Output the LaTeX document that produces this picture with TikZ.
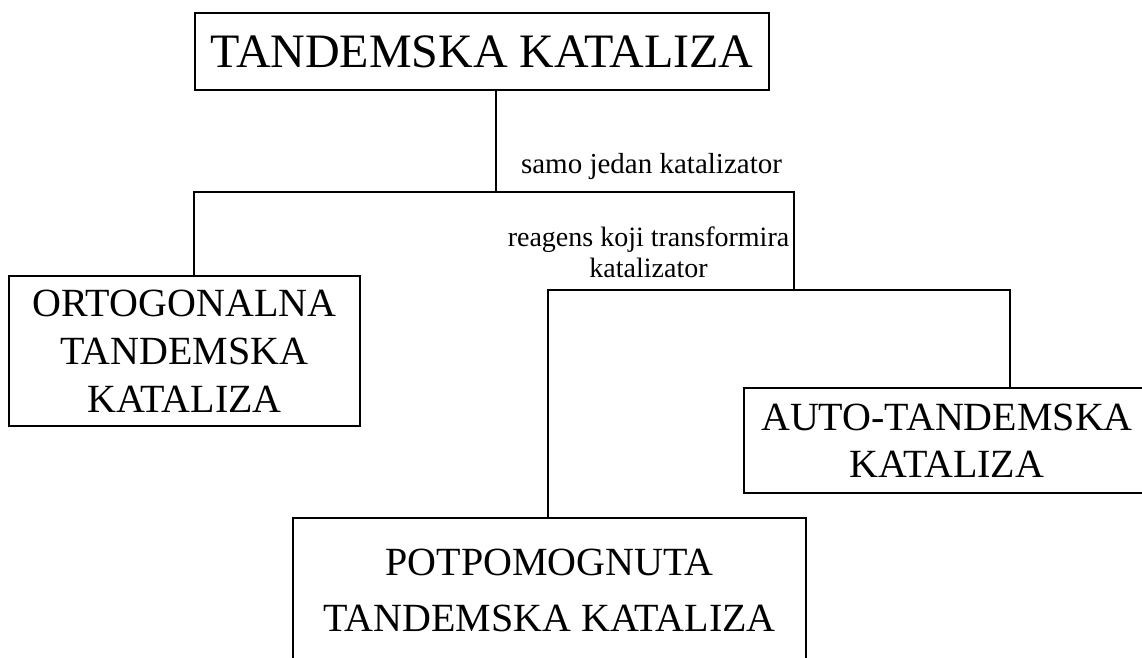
\documentclass[tikz,border=0pt]{standalone}
\usepackage{fontspec}
\setmainfont{Liberation Serif}

\begin{document}
\begin{tikzpicture}[x=1pt,y=-1pt,line width=1.3pt,
    box/.style={draw,inner sep=0pt,align=center,font=\fontsize{40}{48}\selectfont},
    lbl/.style={inner sep=0pt,align=center,anchor=base,font=\fontsize{28}{31}\selectfont}]
        \useasboundingbox (0,0) rectangle (1142,657);
        \clip (0,0) rectangle (1142,657);
        \node[box,minimum width=574pt,minimum height=77pt,font=\fontsize{48}{56}\selectfont] (tk) at (482,51.5) {TANDEMSKA KATALIZA};
        \node[box,minimum width=351pt,minimum height=150pt] (ort) at (184.5,351) {ORTOGONALNA\\TANDEMSKA\\KATALIZA};
        \node[box,minimum width=406pt,minimum height=105pt,font=\fontsize{40}{47}\selectfont] (auto) at (947,440.5) {AUTO-TANDEMSKA\\KATALIZA};
        \node[box,minimum width=513pt,minimum height=144pt,font=\fontsize{40}{56}\selectfont] (pot) at (549.5,590) {POTPOMOGNUTA\\TANDEMSKA KATALIZA};
        \coordinate (j1) at (496,192);
        \coordinate (jl) at (194,192);
        \coordinate (jr) at (794,192);
        \coordinate (kl) at (548,290);
        \coordinate (kr) at (1010,290);
        \draw (tk.south -| j1) -- (j1);
        \draw (ort.north -| jl) -- (jl) -- (jr) -- (jr |- kl);
        \draw (pot.north -| kl) -- (kl) -- (kr) -- (auto.north -| kr);
        \node[lbl,font=\fontsize{29}{31}\selectfont] (l1) at (651.5,173) {samo jedan katalizator};
        \node[lbl] (l2) at (648.5,277) {reagens koji transformira\\katalizator};
    \end{tikzpicture}
\end{document}
